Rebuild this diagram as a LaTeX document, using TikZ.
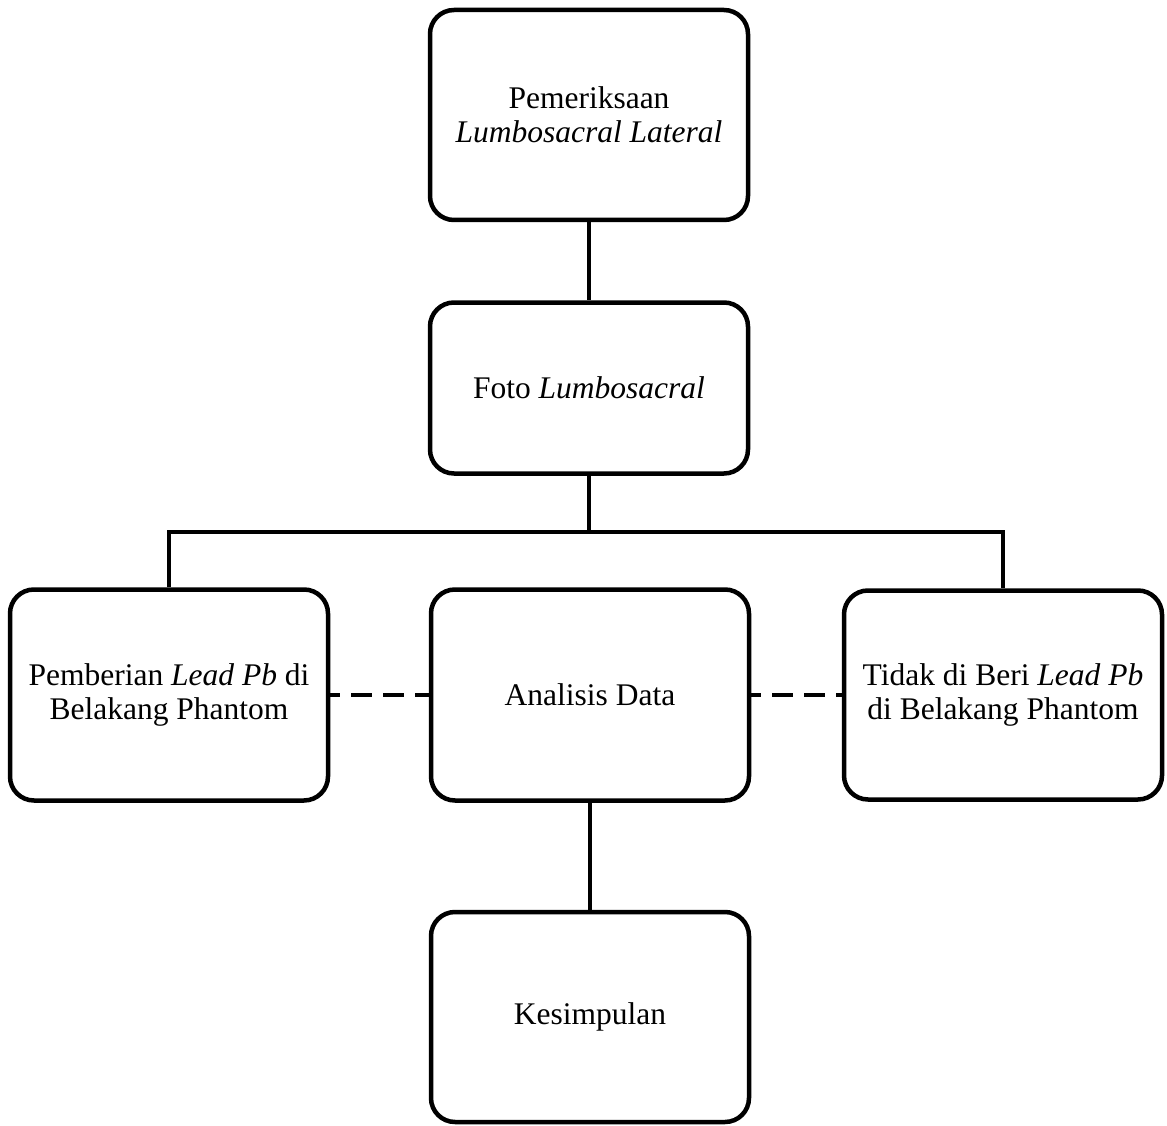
\documentclass[tikz,border=0pt]{standalone}
\usepackage{fontspec}
\setmainfont{Liberation Serif}
\begin{document}
\begin{tikzpicture}[x=1pt,y=-1pt,
  box/.style={draw=black, line width=4.5pt, rounded corners=24pt, minimum width=318pt, align=center, inner sep=2pt,
    font=\fontsize{31.5}{34}\selectfont},
  conn/.style={line width=4pt, black},
  dconn/.style={line width=4pt, black, dash pattern=on 21pt off 11pt, dash phase=11pt}]
\useasboundingbox (0,0) rectangle (1167,1126);
\node[box, minimum height=210pt] (top) at (589,115) {Pemeriksaan\\\textit{Lumbosacral Lateral}};
\node[box, minimum height=171pt] (foto) at (589,388) {Foto \textit{Lumbosacral}};
\node[box, minimum height=211pt] (left) at (169,695) {Pemberian \textit{Lead Pb} di\\Belakang Phantom};
\node[box, minimum height=211pt] (mid) at (590,695) {Analisis Data};
\node[box, minimum height=209pt] (right) at (1003,695) {Tidak di Beri \textit{Lead Pb}\\di Belakang Phantom};
\node[box, minimum height=210pt] (bot) at (590,1017) {Kesimpulan};
\coordinate (bus) at (589,532);
\draw[conn] (top.south) -- (foto.north);
\draw[conn] (foto.south) -- (bus);
\draw[conn] (left.north) |- (bus) -| (right.north);
\draw[dconn] (left.east) -- (mid.west);
\draw[dconn] (mid.east) -- (right.west);
\draw[conn] (mid.south) -- (bot.north);
\end{tikzpicture}
\end{document}
